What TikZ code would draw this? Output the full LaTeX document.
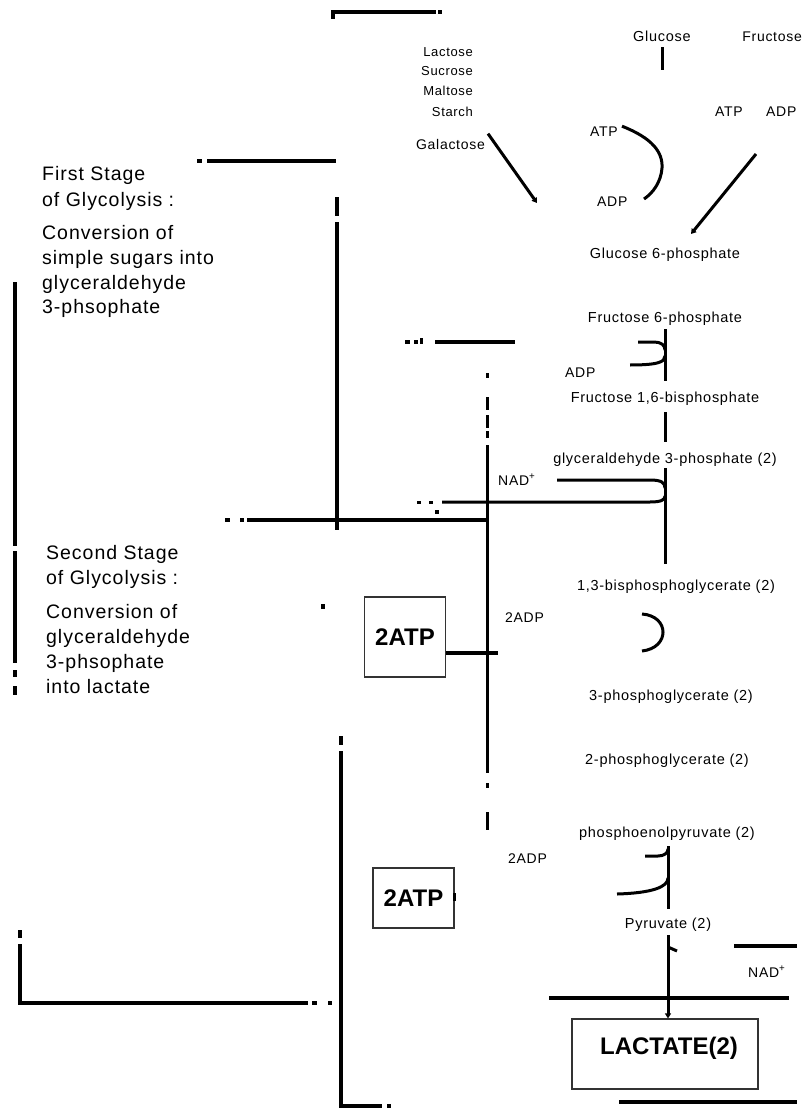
\documentclass[tikz,border=0pt]{standalone}
\usepackage{fontspec}
\setmainfont{Liberation Sans}[LetterSpace=5]
\newfontfamily\boxfont{Liberation Sans}
\usetikzlibrary{arrows.meta}
\begin{document}
\begin{tikzpicture}[x=1pt,y=-1pt,
  heavy/.style={line width=4pt},
  col/.style={line width=3pt},
  met/.style={font=\fontsize{14.5}{16}\selectfont, inner sep=0pt, anchor=base},
  side/.style={font=\fontsize{14}{16}\selectfont, inner sep=0pt, anchor=base west},
  src/.style={font=\fontsize{13}{15}\selectfont, inner sep=0pt, anchor=base east},
  stage/.style={font=\fontsize{19.5}{24}\selectfont, inner sep=0pt, anchor=base west},
  atpbox/.style={draw=black!80, line width=1.2pt, font=\boxfont\bfseries\fontsize{24}{28}\selectfont, inner sep=0pt},
  tipst/.style={-{Triangle[length=5pt,width=6pt]}}
  ]
\useasboundingbox (0,0) rectangle (806,1110);
\fill[white] (0,0) rectangle (806,1110);

% ---- stage texts
\node[stage] (s1a) at (42,181) {First Stage};
\node[stage] (s1b) at (42,206) {of Glycolysis :};
\node[stage] (s1c) at (42,239) {Conversion of};
\node[stage] (s1d) at (42,264) {simple sugars into};
\node[stage] (s1e) at (42,289) {glyceraldehyde};
\node[stage] (s1f) at (42,313) {3-phsophate};
\node[stage] (s2a) at (46,559) {Second Stage};
\node[stage] (s2b) at (46,584) {of Glycolysis :};
\node[stage] (s2c) at (46,618) {Conversion of};
\node[stage] (s2d) at (46,643) {glyceraldehyde};
\node[stage] (s2e) at (46,668) {3-phsophate};
\node[stage] (s2f) at (46,693) {into lactate};

% ---- sugars at top
\node[met] (glc) at (662,42) {Glucose};
\node[side, anchor=base east] (fru) at (802,42) {Fructose};
\node[side] (atpA) at (590,137) {ATP};
\node[side] (adpA) at (597,207) {ADP};
\node[side] (atpB) at (715,117) {ATP};
\node[side] (adpB) at (766,117) {ADP};
\node[src] (src1) at (473,57) {Lactose};
\node[src] (src2) at (473,76) {Sucrose};
\node[src] (src3) at (473,96) {Maltose};
\node[src] (src4) at (473,117) {Starch};
\node[side, anchor=base east] (gal) at (485,150) {Galactose};

% ---- metabolites
\node[met] (g6p) at (665,258) {Glucose 6-phosphate};
\node[met] (f6p) at (665,322) {Fructose 6-phosphate};
\node[side] (adpC) at (565,377) {ADP};
\node[met] (fbp) at (665,402) {Fructose 1,6-bisphosphate};
\node[met] (gap) at (665,463) {glyceraldehyde 3-phosphate (2)};
\node[side] (nad1) at (498,485) {NAD\textsuperscript{+}};
\node[met] (bpg) at (676,590) {1,3-bisphosphoglycerate (2)};
\node[side] (adp2a) at (505,622) {2ADP};
\node[met] (pg3) at (671,700) {3-phosphoglycerate (2)};
\node[met] (pg2) at (667,764) {2-phosphoglycerate (2)};
\node[met] (pep) at (667,837) {phosphoenolpyruvate (2)};
\node[side] (adp2b) at (508,863) {2ADP};
\node[met] (pyr) at (668,928) {Pyruvate (2)};
\node[side] (nad2) at (748,977) {NAD\textsuperscript{+}};

% ---- boxes
\node[atpbox, minimum width=81pt, minimum height=80pt] (atp1) at (405,637) {2ATP};
\node[atpbox, minimum width=81pt, minimum height=60pt] (atp2) at (413.5,898) {2ATP};
\node[draw=black!80, line width=1.2pt, minimum width=186pt, minimum height=70pt, inner sep=0pt] (lacbox) at (665,1054) {};
\node[font=\boxfont\bfseries\fontsize{24}{28}\selectfont, inner sep=0pt, anchor=base] (lac) at (669,1054) {LACTATE(2)};

% ---- connectors of the pathway
\draw[col] (glc.south) ++(0,5) -- ++(0,23);
\draw[col] (atpA.east) ++(4,-6) .. controls (652,138) and (663,152) .. (662,168)
           .. controls (661,182) and (653,193) .. (644,199);
\draw[col, tipst] (756,154) -- (691,234);
\draw[col, tipst] (gal.north east) ++(3,-6) -- (537,203);

\draw[col, shorten <=4pt, shorten >=10pt] (f6p.south) -- (f6p.south |- fbp.north);
\draw[col] (638,342) -- (654,342) .. controls (661,342) and (665,345) .. (665,350);
\draw[col] (665,356) .. controls (665,362) and (658,365) .. (630,365);

\draw[col, shorten <=7pt, shorten >=10pt] (fbp.south) -- (fbp.south |- gap.north);
\draw[col] (557,480) -- (650,480) .. controls (662,480) and (665,483) .. (665,488);
\draw[col] (665,496) .. controls (665,500) and (661,502) .. (650,502) -- (442,502);
\fill (417,500.5) rectangle (421,503.5);
\fill (429,500.5) rectangle (433,503.5);
\fill (435,510) rectangle (439,514);

\draw[col, shorten <=2pt, shorten >=15pt] (gap.south) -- (gap.south |- bpg.north);
\draw[col] (642,614) .. controls (670,616) and (670,648) .. (642,651);
\draw[heavy] ([yshift=-16pt]atp1.east) -- ++(52,0);

\draw[col, shorten <=6pt, shorten >=8pt] (pyr.north |- pep.south) -- (pyr.north);
\draw[col] (645,856) -- (658,856) .. controls (664,856) and (668,853) .. (668,849);
\draw[col] (668,878) .. controls (668,887) and (652,893) .. (617,894);
\draw[line width=3pt] ([yshift=5pt]atp2.east) -- ([yshift=-3pt]atp2.east);

\draw[col, tipst, shorten <=4pt] (pyr.south) -- (pyr.south |- lacbox.north);
\draw[col] (668,947) -- (677,951);

% ---- bracket lines
\draw[heavy] (333,19) -- (333,12) -- (436,12);
\fill (438,10) rectangle (442,14);
\draw[heavy] (207,161) -- (336,161);
\fill (197,159) rectangle (202,163);
\draw[heavy] (337,197) -- (337,216);
\draw[heavy] (337,222) -- (337,530);
\draw[heavy] (247,520) -- (489,520);
\fill (225,518) rectangle (230,522);
\fill (240,518) rectangle (244,522);
\draw[col] (487,373) -- (487,378);
\draw[col] (487,397) -- (487,410);
\draw[col] (487,415) -- (487,428);
\draw[col] (487,431) -- (487,438);
\draw[col] (487,445) -- (487,773);
\draw[col] (487,783) -- (487,788);
\draw[col] (487,812) -- (487,830);
\draw[heavy] (435,342) -- (515,342);
\fill (405,340) rectangle (410,344);
\fill (414,340) rectangle (418,344);
\fill (420,338) rectangle (423,344);
\draw[heavy] (15,282) -- (15,546);
\draw[heavy] (15,551) -- (15,663);
\draw[heavy] (15,670) -- (15,677);
\draw[heavy] (15,686) -- (15,695);
\draw[heavy] (20,930) -- (20,938);
\draw[heavy] (20,944) -- (20,1003) -- (308,1003);
\fill (312,1001) rectangle (317,1005);
\fill (328,1001) rectangle (332,1005);
\draw[heavy] (341,736) -- (341,745);
\draw[heavy] (341,751) -- (341,1106) -- (382,1106);
\fill (387,1104) rectangle (391,1108);
\fill (321,604) rectangle (325,609);
\draw[heavy] (549,998) -- (789,998);
\draw[heavy] (734,946) -- (797,946);
\draw[heavy] (619,1102) -- (797,1102);
\end{tikzpicture}
\end{document}
